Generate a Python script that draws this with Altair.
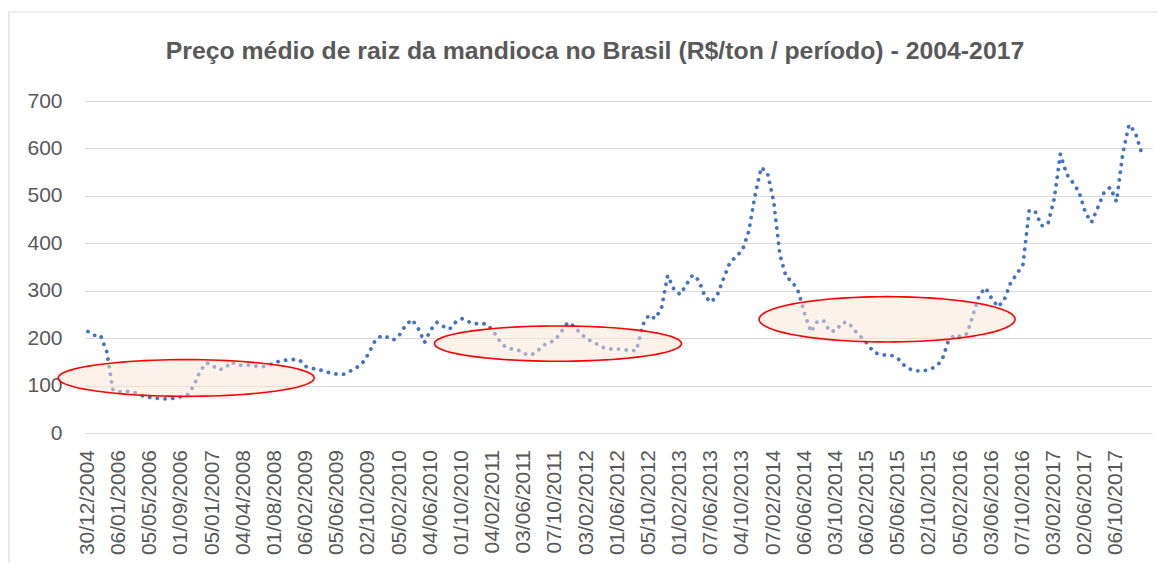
import numpy as np
import pandas as pd
import altair as alt

TITLE = "Preço médio de raiz da mandioca no Brasil (R$/ton / período) - 2004-2017"

tick_labels = [
    "30/12/2004", "06/01/2006", "05/05/2006", "01/09/2006", "05/01/2007",
    "04/04/2008", "01/08/2008", "06/02/2009", "05/06/2009", "02/10/2009",
    "05/02/2010", "04/06/2010", "01/10/2010", "04/02/2011", "03/06/2011",
    "07/10/2011", "03/02/2012", "01/06/2012", "05/10/2012", "01/02/2013",
    "07/06/2013", "04/10/2013", "07/02/2014", "06/06/2014", "03/10/2014",
    "06/02/2015", "05/06/2015", "02/10/2015", "05/02/2016", "03/06/2016",
    "07/10/2016", "03/02/2017", "02/06/2017", "06/10/2017",
]
LABEL_EVERY = 5  # periods between two shown date labels

price = [
    214, 206, 206, 172, 91, 87, 88, 87, 83, 77,
    75, 73, 72, 72, 74, 77, 81, 100, 131, 148,
    142, 133, 137, 150, 143, 143, 143, 141, 140, 142,
    149, 152, 154, 155, 153, 140, 136, 134, 130, 126,
    124, 124, 130, 137, 147, 167, 193, 205, 202, 196,
    207, 228, 239, 220, 191, 218, 233, 225, 219, 234,
    241, 235, 230, 232, 229, 215, 195, 181, 177, 175,
    167, 164, 171, 185, 190, 197, 215, 233, 225, 210,
    199, 192, 185, 178, 177, 177, 176, 173, 174, 228,
    249, 241, 263, 332, 303, 292, 313, 333, 322, 287,
    276, 292, 327, 360, 372, 386, 425, 500, 560, 549,
    489, 376, 329, 319, 297, 250, 213, 235, 237, 214,
    216, 233, 233, 216, 203, 189, 171, 166, 164, 163,
    156, 142, 134, 131, 131, 134, 140, 153, 193, 207,
    203, 209, 249, 291, 306, 283, 266, 281, 316, 335,
    355, 470, 466, 437, 440, 493, 588, 546, 528, 508,
    465, 444, 475, 507, 518, 488, 588, 650, 634, 592,
]

Y_TICKS = [0, 100, 200, 300, 400, 500, 600, 700]

# highlighted periods (centre in period index / price units)
ell_x = [15.75, 75.4, 128.2]
ell_y = [116, 188.5, 239.7]

df = pd.DataFrame({"idx": list(range(len(price))), "price": price})
lab_df = pd.DataFrame({
    "idx": [i * LABEL_EVERY for i in range(len(tick_labels))],
    "label": tick_labels,
})

W, H = 1067, 332
GREY = "#595959"
FONT = "Liberation Sans"

x_enc = alt.X(
    "idx:Q",
    scale=alt.Scale(domain=[-0.48, 170.7], nice=False, zero=False),
    axis=alt.Axis(labels=False, ticks=False, domain=False, grid=False, title=None),
)
y_enc = alt.Y(
    "price:Q",
    scale=alt.Scale(domain=[0, 700], nice=False, zero=True),
    axis=alt.Axis(
        values=Y_TICKS, format="d", labelFontSize=21, labelFont=FONT,
        labelColor=GREY, labelPadding=23, ticks=False, domain=False,
        gridColor="#D9D9D9", gridWidth=1.2, title=None,
    ),
)

border = alt.Chart(alt.Data(values=[{}])).mark_rect(
    fillOpacity=0, stroke="#D9D9D9", strokeWidth=1.2
).encode(
    x=alt.value(-76), x2=alt.value(1075), y=alt.value(-89), y2=alt.value(700)
)

line = alt.Chart(df).mark_line(
    color="#4472C4", strokeWidth=3.8, strokeCap="round", strokeDash=[0.1, 7.6]
).encode(x=x_enc, y=y_enc)

xlabels = alt.Chart(lab_df).mark_text(
    font=FONT, fontSize=21, color=GREY, angle=270,
    align="right", baseline="middle",
).encode(
    x=alt.X("idx:Q"),
    y=alt.value(H + 17),
    text="label:N",
)


def ellipse_layer(cx, cy, w_px, h_px):
    r = h_px / w_px
    t = np.linspace(0, 2 * np.pi, 97)[:-1]
    path = "M " + " L ".join(
        "%.4f %.4f" % (np.cos(a), r * np.sin(a)) for a in t
    ) + " Z"
    return alt.Chart(alt.Data(values=[{}])).mark_point(
        shape=path, size=w_px ** 2, filled=True, fill="#FBE5D6",
        fillOpacity=0.5, stroke="#FF0000", strokeWidth=1.6, opacity=1,
    ).encode(x=alt.datum(cx), y=alt.datum(cy))


ellipses = [
    ellipse_layer(ell_x[0], ell_y[0], 256, 36.7),
    ellipse_layer(ell_x[1], ell_y[1], 247, 35.3),
    ellipse_layer(ell_x[2], ell_y[2], 256, 45.3),
]

title = alt.Chart(alt.Data(values=[{"t": TITLE}])).mark_text(
    font=FONT, fontWeight="bold", fontSize=24.8, color=GREY,
    align="center", baseline="alphabetic",
).encode(text="t:N", x=alt.value(510), y=alt.value(-42))

chart = alt.layer(border, line, *ellipses, xlabels, title).properties(
    width=W, height=H,
    autosize=alt.AutoSizeParams(type="none"),
    padding={"left": 77, "top": 93, "right": 6, "bottom": 130},
).configure_view(strokeWidth=0)

chart.save("out.html", embed_options={"renderer": "svg", "actions": False})
